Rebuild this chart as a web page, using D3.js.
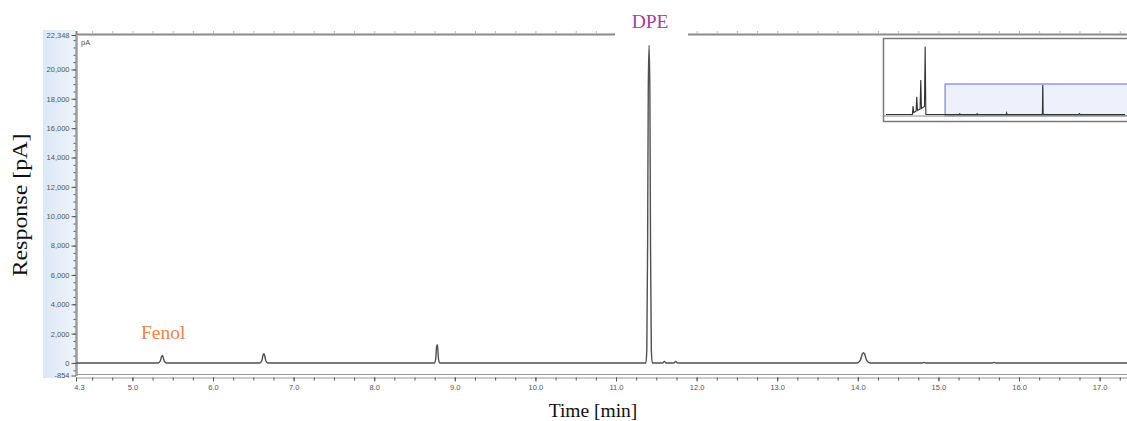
<!DOCTYPE html>
<html>
<head>
<meta charset="utf-8">
<script src="https://cdn.jsdelivr.net/npm/d3@7"></script>
<style>
  body { margin: 0; background: #fff; }
  svg { display: block; }
  .tick text { font-family: "Liberation Sans", Arial, sans-serif; font-size: 7.5px; fill: #555; }
  .serif { font-family: "Liberation Serif", "Times New Roman", serif; }
</style>
</head>
<body>
<svg id="chrom"></svg>
<script>
// chromatogram vertices: retention time (min) and detector response (pA)
var traceTime = [4.3, 5.32, 5.345, 5.36, 5.37, 5.38, 5.395, 5.42,
                 6.58, 6.605, 6.62, 6.63, 6.64, 6.655, 6.68,
                 8.745, 8.762, 8.772, 8.78, 8.788, 8.798, 8.815,
                 11.37, 11.382, 11.392, 11.40, 11.41, 11.42, 11.428, 11.438, 11.45,
                 11.58, 11.60, 11.62, 11.72, 11.74, 11.76,
                 13.99, 14.03, 14.055, 14.07, 14.085, 14.11, 14.15,
                 14.80, 14.82, 14.84, 15.67, 15.69, 15.71, 17.4];
var traceResp = [0, 0, 120, 420, 510, 420, 120, 0,
                 0, 150, 530, 640, 530, 150, 0,
                 0, 250, 1000, 1240, 1000, 250, 0,
                 0, 900, 8000, 18500, 21640, 18500, 8000, 900, 0,
                 0, 110, 0, 0, 110, 0,
                 0, 170, 600, 705, 600, 170, 0,
                 0, 40, 0, 0, 40, 0, 0];

// early solvent peaks, only shown in the overview
var solventTime = [0, 1.92, 1.97, 2.02, 2.19, 2.24, 2.29, 2.48, 2.53, 2.58, 2.80, 2.85, 2.90];
var solventResp = [0, 0, 6200, 1500, 2500, 13000, 3000, 4000, 25300, 4500, 6000, 49700, 0];

var yTickValues = [-854, 0, 2000, 4000, 6000, 8000, 10000, 12000, 14000, 16000, 18000, 20000, 22348];
var xTickValues = [4.3, 5, 6, 7, 8, 9, 10, 11, 12, 13, 14, 15, 16, 17];

var peakNames = ["Fenol", "DPE"];
var peakTimes = [5.37, 11.41];
var peakColors = ["#ec8550", "#a2409e"];

var w = 1127;
var h = 421;

var svg = d3.select("#chrom")
            .attr("width", w)
            .attr("height", h);

// Scales
var x = d3.scaleLinear().domain([4.3, 17.4]).range([76, 76 + 13.1 * 80.6]);
var y = d3.scaleLinear().domain([-854, 22348]).range([375.5, 35]);

// blue band behind the y axis
var grad = svg.append("defs").append("linearGradient")
              .attr("id", "band").attr("x1", 0).attr("x2", 1);
grad.append("stop").attr("offset", 0).attr("stop-color", "#dbe8f6");
grad.append("stop").attr("offset", 1).attr("stop-color", "#eef4fb");

svg.append("rect")
    .attr("x", 43).attr("y", 30)
    .attr("width", 33).attr("height", 348)
    .attr("fill", "url(#band)");

// top axis: faint ticks and frame line
var topAxis = d3.axisTop(x)
                .tickValues(d3.range(4.5, 17.4, 0.25))
                .tickSize(3)
                .tickFormat("");
var gTop = svg.append("g")
    .attr("transform", "translate(0,34)")
    .call(topAxis);
gTop.selectAll(".tick line").attr("stroke", "#bbb");
gTop.select(".domain").attr("stroke", "#8a8a8a").attr("stroke-width", 2);

// bottom frame double line
svg.append("line").attr("x1", 76).attr("x2", w)
    .attr("y1", 374.5).attr("y2", 374.5)
    .attr("stroke", "#999").attr("stroke-width", 1.2);

// X axis minor ticks
var gxMinor = svg.append("g")
    .attr("transform", "translate(0,377.5)")
    .call(d3.axisBottom(x).tickValues(d3.range(4.5, 17.4, 0.25)).tickSize(3).tickFormat(""));
gxMinor.selectAll(".tick line").attr("stroke", "#555");
gxMinor.select(".domain").attr("stroke", "#999").attr("stroke-width", 1.2);

// X axis labelled ticks
var gx = svg.append("g")
    .attr("transform", "translate(0,377.5)")
    .call(d3.axisBottom(x).tickValues(xTickValues).tickSize(4).tickPadding(3)
             .tickFormat(d3.format(".1f")));
gx.select(".domain").remove();
gx.selectAll(".tick line").attr("stroke", "#555");
gx.selectAll(".tick text").filter(function(d) { return d === 4.3; }).attr("dx", 3);

// Y axis minor ticks
var gyMinor = svg.append("g")
    .attr("transform", "translate(76,0)")
    .call(d3.axisLeft(y).tickValues(d3.range(-500, 22348, 500)).tickSize(2.5).tickFormat(""));
gyMinor.select(".domain").remove();
gyMinor.selectAll(".tick line").attr("stroke", "#555");

// Y axis labelled ticks
var gy = svg.append("g")
    .attr("transform", "translate(76,0)")
    .call(d3.axisLeft(y).tickValues(yTickValues).tickSize(4.5).tickPadding(2).tickSizeOuter(0)
             .tickFormat(function(d) { return d3.format(",")(d).replace("\u2212", "-"); }));
gy.selectAll(".tick line").attr("stroke", "#555");
gy.select(".domain").attr("stroke", "#9c9c9c").attr("stroke-width", 2.5);

// unit tag inside plot
svg.append("text")
    .attr("x", 81).attr("y", 45)
    .attr("font-family", "Liberation Sans, Arial, sans-serif")
    .attr("font-size", 7.5)
    .attr("fill", "#6b4a4a")
    .text("pA");

// chromatogram trace
var trace = traceTime.map(function(t, i) { return [t, traceResp[i]]; });

svg.append("path")
    .datum(trace)
    .attr("fill", "none")
    .attr("stroke", "#505050")
    .attr("stroke-width", 1.4)
    .attr("stroke-linejoin", "round")
    .attr("d", d3.line()
        .curve(d3.curveMonotoneX)
        .x(function(d) { return x(d[0]); })
        .y(function(d) { return y(d[1]); }));

// overview inset
var ovX = d3.scaleLinear().domain([0, 17.6]).range([886, 886 + 17.6 * 13.74]);
var ovY = d3.scaleLinear().domain([-854, 22348]).range([115.7, 84]);

svg.append("rect")
    .attr("x", 883.5).attr("y", 38.5)
    .attr("width", 260).attr("height", 83)
    .attr("fill", "#fff")
    .attr("stroke", "#7a7a7a")
    .attr("stroke-width", 1.5);

svg.append("rect")
    .attr("x", ovX(x.domain()[0])).attr("y", ovY(y.domain()[1]))
    .attr("width", ovX(x.domain()[1]) - ovX(x.domain()[0]) + 10)
    .attr("height", ovY(y.domain()[0]) - ovY(y.domain()[1]))
    .attr("fill", "#eef0fc")
    .attr("stroke", "#7d7df0")
    .attr("stroke-width", 1.2);

var overview = solventTime.map(function(t, i) { return [t, solventResp[i]]; })
                          .concat(trace);

svg.append("path")
    .datum(overview)
    .attr("fill", "none")
    .attr("stroke", "#333")
    .attr("stroke-width", 1.1)
    .attr("d", d3.line()
        .x(function(d) { return ovX(d[0]); })
        .y(function(d) { return ovY(d[1]); }));

svg.append("line")
    .attr("x1", 884).attr("x2", w)
    .attr("y1", ovY(0) + 1.5).attr("y2", ovY(0) + 1.5)
    .attr("stroke", "#8a8a8a").attr("stroke-width", 1);

// peak names
svg.append("rect")
    .attr("x", 615).attr("y", 5)
    .attr("width", 73).attr("height", 34)
    .attr("fill", "#fff");

svg.append("text")
    .attr("class", "serif")
    .attr("x", x(peakTimes[0]) + 1)
    .attr("y", 339)
    .attr("text-anchor", "middle")
    .attr("font-size", 19.5)
    .attr("fill", peakColors[0])
    .text(peakNames[0]);

svg.append("text")
    .attr("class", "serif")
    .attr("x", x(peakTimes[1]) + 1)
    .attr("y", 28)
    .attr("text-anchor", "middle")
    .attr("font-size", 19.5)
    .attr("fill", peakColors[1])
    .text(peakNames[1]);

// Axis titles
svg.append("text")
    .attr("class", "serif")
    .attr("x", 593)
    .attr("y", 417)
    .attr("text-anchor", "middle")
    .attr("font-size", 19.5)
    .attr("fill", "#111")
    .text("Time [min]");

svg.append("text")
    .attr("class", "serif")
    .attr("transform", "translate(27,205) rotate(-90)")
    .attr("text-anchor", "middle")
    .attr("font-size", 21)
    .attr("textLength", 143)
    .attr("lengthAdjust", "spacingAndGlyphs")
    .attr("fill", "#111")
    .text("Response [pA]");
</script>
</body>
</html>
